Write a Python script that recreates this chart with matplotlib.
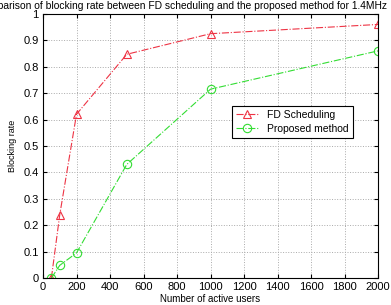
import matplotlib.pyplot as plt

plt.rcParams['font.family'] = ['Liberation Sans', 'DejaVu Sans']

users = [50, 100, 200, 500, 1000, 2000]
fd_rate = [0.0, 0.24, 0.62, 0.847, 0.925, 0.96]
proposed_rate = [0.0, 0.048, 0.095, 0.43, 0.715, 0.86]
xticks = [0, 200, 400, 600, 800, 1000, 1200, 1400, 1600, 1800, 2000]
yticks = [0, 0.1, 0.2, 0.3, 0.4, 0.5, 0.6, 0.7, 0.8, 0.9, 1]
ytick_labels = ['0', '0.1', '0.2', '0.3', '0.4', '0.5', '0.6', '0.7', '0.8', '0.9', '1']

fig = plt.figure(figsize=(3.91, 3.05), dpi=100)
ax = fig.add_axes([0.11, 0.0885, 0.857, 0.866])

ax.plot(users, fd_rate, '-.', color='#ee3344', marker='^', markersize=6,
        markerfacecolor='none', markeredgewidth=0.8, linewidth=0.8,
        label='FD Scheduling')
ax.plot(users, proposed_rate, '-.', color='#33dd33', marker='o', markersize=6,
        markerfacecolor='none', markeredgewidth=0.8, linewidth=0.8,
        label='Proposed method')

ax.set_xlim(0, 2000)
ax.set_ylim(0, 1)
ax.set_xticks(xticks)
ax.set_yticks(yticks)
ax.set_yticklabels(ytick_labels)
ax.tick_params(direction='in', top=True, right=True, labelsize=8, length=3, pad=3)
ax.grid(True, linestyle=':', color='#aaaaaa', linewidth=0.7)
for s in ax.spines.values():
    s.set_linewidth(0.8)

ax.set_xlabel('Number of active users', fontsize=7, labelpad=1)
ax.set_ylabel('Blocking rate', fontsize=6.5, labelpad=5)
# title runs off the left edge like in the original figure
fig.text(387 / 391, 0.998,
         'Comparison of blocking rate between FD scheduling and the proposed method for 1.4MHz',
         ha='right', va='top', fontsize=7.35)

leg = ax.legend(loc='upper right', bbox_to_anchor=(0.94, 0.672), fontsize=7.5,
                fancybox=False, framealpha=1, edgecolor='black', handlelength=2.2,
                borderpad=0.4, labelspacing=0.4)
leg.get_frame().set_linewidth(0.8)

fig.savefig('out.png', dpi=100)
